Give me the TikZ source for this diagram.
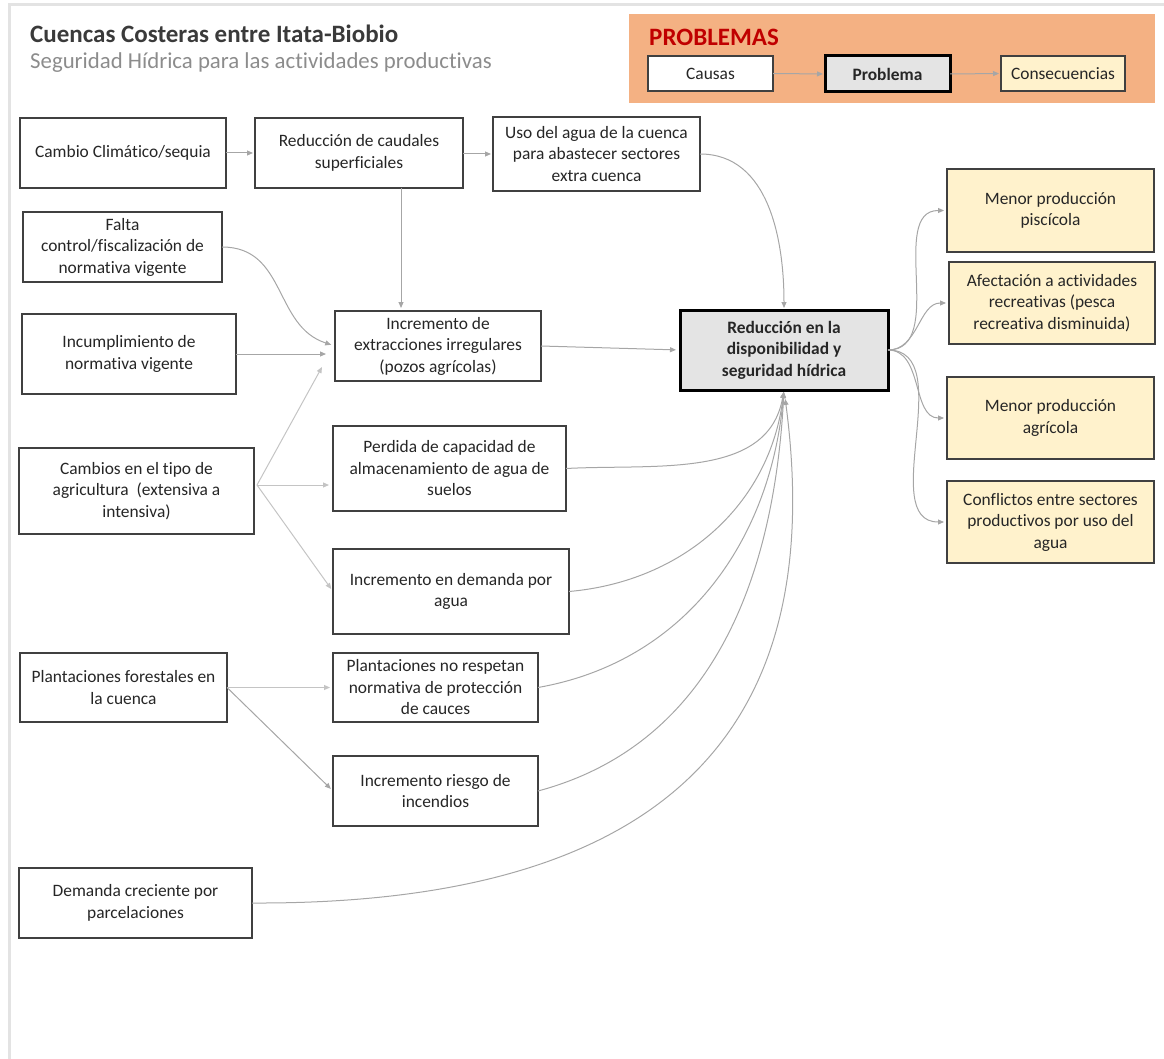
\documentclass[tikz,border=0pt]{standalone}
\usepackage{fontspec}
\setmainfont[Ligatures=NoCommon]{Carlito}
\usetikzlibrary{arrows.meta}
\definecolor{framegray}{HTML}{E3E3E3}
\definecolor{boxline}{HTML}{404040}
\definecolor{txt}{HTML}{262626}
\definecolor{arrgray}{HTML}{A6A6A6}
\definecolor{arrlight}{HTML}{C4C4C4}
\definecolor{legorange}{HTML}{F4B183}
\definecolor{legred}{HTML}{C00000}
\definecolor{conseq}{HTML}{FFF2CC}
\definecolor{probfill}{HTML}{E4E4E4}
\definecolor{titlec}{HTML}{3A3A3A}
\definecolor{subc}{HTML}{8C8C8C}
\tikzset{
  bx/.style 2 args={draw=boxline, line width=1.6pt, fill=white, minimum width=#1, minimum height=#2,
    inner sep=0pt, outer sep=0pt, align=center, text=txt, font=\fontsize{17.4}{21.5}\selectfont},
  cbx/.style 2 args={bx={#1}{#2}, fill=conseq},
  pbx/.style 2 args={bx={#1}{#2}, draw=black, line width=3pt, fill=probfill,
    font=\fontsize{17.4}{21.5}\selectfont\bfseries},
  arr/.style={draw=arrgray, line width=1pt, -{Triangle[length=6pt,width=5pt]}, shorten >=2pt},
  arrl/.style={arr, draw=arrlight},
}
\begin{document}
\begin{tikzpicture}[x=1pt,y=1pt]
\useasboundingbox (0,0) rectangle (1164,-1059);
% page frame
\draw[framegray, line width=3pt] (9,-1059) -- (9,-5) -- (1164,-5);
% title
\node[anchor=west, text=titlec, font=\fontsize{25}{30}\selectfont\bfseries, inner sep=0pt] (title) at (30,-34) {Cuencas Costeras entre Itata-Biobio};
\node[anchor=west, text=subc, font=\fontsize{22.8}{28}\selectfont, inner sep=0pt] (subtitle) at (30,-63) {Seguridad Hídrica para las actividades productivas};
% legend
\node[fill=legorange, minimum width=526pt, minimum height=89pt, inner sep=0pt] (legbg) at (892,-58.5) {};
\node[anchor=west, text=legred, font=\fontsize{25}{30}\selectfont\bfseries, inner sep=0pt] (legtitle) at (649,-37) {PROBLEMAS};
\node[bx={125pt}{35pt}] (lc) at (710.5,-73.5) {Causas};
\node[pbx={125pt}{36pt}] (lp) at (887.5,-74) {Problema};
\node[cbx={124pt}{35pt}] (lq) at (1063,-73.5) {Consecuencias};
\draw[arr] (lc.east) -- (lp.west);
\draw[arr] (lp.east) -- (lq.west);
% cause boxes
\node[bx={206pt}{70pt}] (cc) at (123,-153) {Cambio Climático/sequia};
\node[bx={208pt}{70pt}] (rc) at (359,-153) {Reducción de caudales\\superficiales};
\node[bx={207pt}{74pt}] (ua) at (596.5,-154) {Uso del agua de la cuenca\\para abastecer sectores\\extra cuenca};
\node[bx={199pt}{70pt}] (fc) at (122.5,-247) {Falta\\control/fiscalización de\\normativa vigente};
\node[bx={214pt}{80pt}] (inc) at (129,-354) {Incumplimiento de\\normativa vigente};
\node[bx={206pt}{70pt}] (ie) at (438,-346) {Incremento de\\extracciones irregulares\\(pozos agrícolas)};
\node[bx={235pt}{86pt}] (ca) at (136.5,-491) {Cambios en el tipo de\\agricultura\ \ (extensiva a\\intensiva)};
\node[bx={233pt}{85pt}] (pc) at (449.5,-468.5) {Perdida de capacidad de\\almacenamiento de agua de\\suelos};
\node[bx={236pt}{85pt}] (id) at (451,-591.5) {Incremento en demanda por\\agua};
\node[bx={207pt}{69pt}] (pf) at (123.5,-687.5) {Plantaciones forestales en\\la cuenca};
\node[bx={205pt}{69pt}] (pn) at (435.5,-687.5) {Plantaciones no respetan\\normativa de protección\\de cauces};
\node[bx={205pt}{70pt}] (ir) at (435.5,-791) {Incremento riesgo de\\incendios};
\node[bx={233pt}{70pt}] (dc) at (135.5,-903) {Demanda creciente por\\parcelaciones};
% problem
\node[pbx={208pt}{80pt}] (P) at (784,-350) {Reducción en la\\disponibilidad y\\seguridad hídrica};
% consequences
\node[cbx={207pt}{83pt}] (c1) at (1050.5,-210.5) {Menor producción\\piscícola};
\node[cbx={206pt}{82pt}] (c2) at (1052,-303) {Afectación a actividades\\recreativas (pesca\\recreativa disminuida)};
\node[cbx={207pt}{82pt}] (c3) at (1050.5,-418) {Menor producción\\agrícola};
\node[cbx={207pt}{82pt}] (c4) at (1050.5,-522) {Conflictos entre sectores\\productivos por uso del\\agua};
% helper coordinates
\coordinate (caO) at (257,-485);
\coordinate (ieIn) at (322,-367);
\coordinate (rcDown) at (401,-188);
% connectors
\draw[arr] (cc.east) -- (rc.west);
\draw[arr] (rc.east |- ua.west) -- (ua.west);
\draw[arr, shorten >=3pt] (rcDown) -- (rcDown |- ie.north);
\draw[arr] (ua.east) to[out=0, in=90] (P.north);
\draw[arr, shorten >=4pt] (fc.east) to[out=0, in=162, looseness=1.1] (ie.west);
\draw[arr, shorten >=9pt] (inc.east) -- (inc.east -| ie.west);
\draw[arrl, shorten >=0pt] (caO) -- (ieIn);
\draw[arrl, shorten >=4pt] (caO) -- (caO -| pc.west);
\draw[arrl, shorten >=3pt] (caO) -- (id.west);
\draw[arrl, shorten >=3pt] (pf.east) -- (pn.west);
\draw[arr, shorten >=3pt] (pf.east) -- (ir.west);
\draw[arr, shorten >=4pt] (ie.east) -- (P.west);
\draw[arr] (pc.east) to[out=3, in=-100] (P.south);
\draw[arr] (id.east) to[out=5, in=-97] (P.south);
\draw[arr] (pn.east) to[out=10, in=-95] (P.south);
\draw[arr] (ir.east) to[out=15, in=-93] (P.south);
\draw[arr, shorten >=9pt] (dc.east) .. controls (700,-905) and (825,-700) .. (P.south);
\draw[arr, shorten >=3pt] (P.east) to[out=0, in=180] (c1.west);
\draw[arr, shorten >=3pt] (P.east) to[out=0, in=180] (c2.west);
\draw[arr, shorten >=3pt] (P.east) to[out=0, in=180] (c3.west);
\draw[arr, shorten >=3pt] (P.east) to[out=0, in=180] (c4.west);
\end{tikzpicture}
\end{document}
